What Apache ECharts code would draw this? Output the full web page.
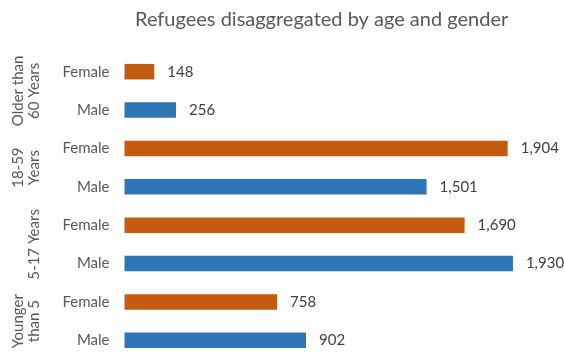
<!DOCTYPE html>
<html>
<head>
<meta charset="utf-8">
<script src="https://cdn.jsdelivr.net/npm/echarts@6/dist/echarts.min.js"></script>
<style>html,body{margin:0;padding:0;background:#fff}#c{width:564px;height:354px}</style>
</head>
<body>
<div id="c"></div>
<script>
// Age groups, bottom to top
const groups = ['Younger\nthan 5', '5-17 Years', '18-59\nYears', 'Older than\n60 Years'];
const genders = ['Male', 'Female'];
const maleValues = [902, 1930, 1501, 256];
const femaleValues = [758, 1690, 1904, 148];
const xTicks = { min: 0, max: 2000 };

const maleColor = '#2E75B6';
const femaleColor = '#C55A11';

const cats = [];
const data = [];
groups.forEach((g, i) => {
  cats.push('Male');
  data.push({ value: maleValues[i], itemStyle: { color: maleColor } });
  cats.push('Female');
  data.push({ value: femaleValues[i], itemStyle: { color: femaleColor } });
});

const chart = echarts.init(document.getElementById('c'), null, { renderer: 'canvas' });
const font = 'Lato, "Open Sans", sans-serif';
chart.setOption({
  animation: false,
  title: {
    text: 'Refugees disaggregated by age and gender',
    left: 130, top: 5,
    textStyle: { fontFamily: font, fontSize: 20, fontWeight: 'normal', color: '#595959' }
  },
  grid: { left: 124.5, right: 37, top: 52.5, height: 307, outerBoundsMode: 'none', containLabel: false },
  xAxis: {
    type: 'value', min: xTicks.min, max: xTicks.max, show: false
  },
  yAxis: [{
    type: 'category', data: cats,
    axisLine: { show: false }, axisTick: { show: false },
    axisLabel: { fontFamily: font, fontSize: 15, color: '#595959', margin: 15, interval: 0 }
  }, {
    type: 'category', data: groups, position: 'left', offset: 76,
    axisLine: { show: false }, axisTick: { show: false },
    axisLabel: { fontFamily: font, fontSize: 15, color: '#595959', rotate: 90, margin: 6, lineHeight: 16, align: 'center', interval: 0 }
  }],
  series: [{
    type: 'bar', data: data, barWidth: 15.5,
    label: {
      show: true, position: 'right', distance: 13,
      fontFamily: font, fontSize: 15, color: '#404040',
      formatter: p => p.value.toLocaleString('en-US')
    }
  }]
});
</script>
</body>
</html>
